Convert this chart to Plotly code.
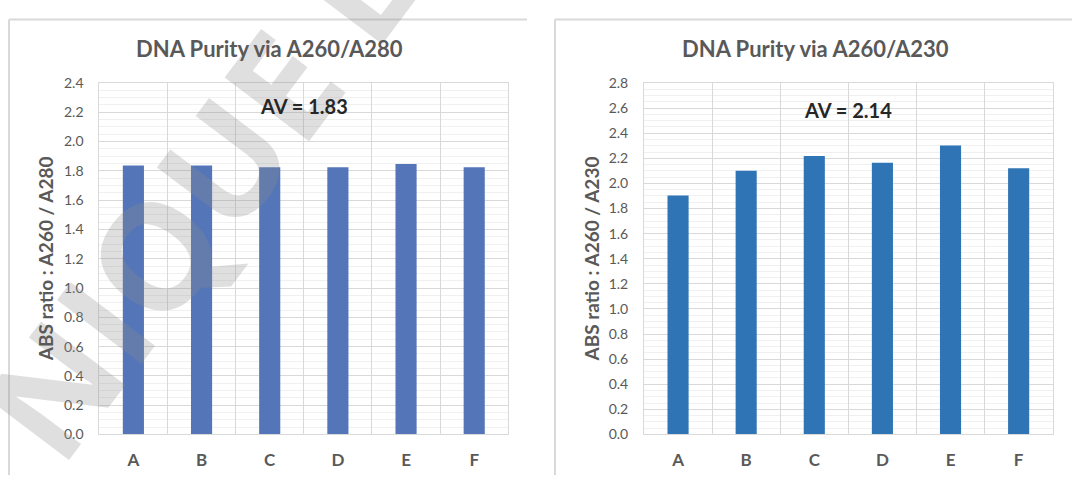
import plotly.graph_objects as go

# ---- data ----
categories = ["A", "B", "C", "D", "E", "F"]
ratio_260_280 = [1.836, 1.836, 1.825, 1.825, 1.847, 1.825]
ratio_260_230 = [1.904, 2.101, 2.219, 2.165, 2.303, 2.121]
title_left = "DNA Purity via A260/A280"
title_right = "DNA Purity via A260/A230"
ytitle_left = "ABS ratio : A260 / A280"
ytitle_right = "ABS ratio : A260 / A230"
avg_left_label = "AV = 1.83"
avg_right_label = "AV = 2.14"
watermark_text = "NIQUE E"

W, H = 1072, 483
FONT = "Lato"
GRAY = "#595959"
GRID = "#d9d9d9"
MINOR = "#f0f0f0"

def px(x):
    return x / W

def py(y):
    return 1 - y / H

fig = go.Figure()
fig.add_trace(go.Bar(x=categories, y=ratio_260_280, marker=dict(color="#5476b9", line=dict(width=0)),
                     xaxis="x", yaxis="y", showlegend=False))
fig.add_trace(go.Bar(x=categories, y=ratio_260_230, marker=dict(color="#2f75b6", line=dict(width=0)),
                     xaxis="x2", yaxis="y2", showlegend=False))

xcommon = dict(type="category", tickson="boundaries", showgrid=True, gridcolor=GRID, gridwidth=1,
               showline=True, linecolor=GRID, linewidth=1, mirror=True, ticks="", zeroline=False,
               tickfont=dict(family=FONT, size=17, color=GRAY, weight="bold"), ticklabelstandoff=10,
               fixedrange=True)
ycommon = dict(showgrid=True, gridcolor=GRID, gridwidth=1, dtick=0.2, tick0=0, tickformat=".1f",
               showline=True, linecolor=GRID, linewidth=1, mirror=True, ticks="", zeroline=False,
               minor=dict(dtick=0.05, showgrid=True, gridcolor=MINOR, gridwidth=1),
               tickfont=dict(family=FONT, size=14, color=GRAY), ticklabelstandoff=12,
               fixedrange=True)

ydom = [py(441), py(76.7)]
fig.update_layout(
    width=W, height=H, autosize=False,
    margin=dict(l=0, r=0, t=0, b=0),
    paper_bgcolor="white", plot_bgcolor="white",
    bargap=0.69,
    xaxis=dict(domain=[px(99.3), px(508.3)], anchor="y", **xcommon),
    yaxis=dict(domain=ydom, anchor="x", range=[0, 2.4], **ycommon),
    xaxis2=dict(domain=[px(644), px(1052.7)], anchor="y2", **xcommon),
    yaxis2=dict(domain=ydom, anchor="x2", range=[0, 2.8], **ycommon),
    font=dict(family=FONT),
)

# panel borders
border = dict(color=GRID, width=2)
for x0, x1 in [(9, 527), (555, 1072)]:
    fig.add_shape(type="line", xref="paper", yref="paper", x0=px(x0), x1=px(x1), y0=py(11), y1=py(11), line=border)
    fig.add_shape(type="line", xref="paper", yref="paper", x0=px(x0), x1=px(x0), y0=py(11), y1=py(483), line=border)

ann = []
# watermark
ann.append(dict(text=watermark_text, xref="paper", yref="paper", x=px(196), y=py(193),
                showarrow=False, textangle=-53, xanchor="center", yanchor="middle",
                font=dict(family="Open Sans", size=148, color="rgba(140,140,140,0.28)", weight="bold")))
# titles
for t, xc in [(title_left, 269), (title_right, 815)]:
    ann.append(dict(text=t, xref="paper", yref="paper", x=px(xc), y=py(41), showarrow=False,
                    xanchor="center", yanchor="middle",
                    font=dict(family=FONT, size=22, color=GRAY, weight="bold")))
# y-axis titles
for t, xc in [(ytitle_left, 46.3), (ytitle_right, 591.5)]:
    ann.append(dict(text=t, xref="paper", yref="paper", x=px(xc), y=py(259), showarrow=False,
                    textangle=-90, xanchor="center", yanchor="middle",
                    font=dict(family=FONT, size=19, color=GRAY, weight="bold")))
# average labels
for t, xc, yc in [(avg_left_label, 303.8, 100.8), (avg_right_label, 848.3, 105)]:
    ann.append(dict(text=t, xref="paper", yref="paper", x=px(xc), y=py(yc), showarrow=False,
                    xanchor="center", yanchor="middle",
                    font=dict(family=FONT, size=20, color="#262626", weight="bold")))
fig.update_layout(annotations=ann)

fig.write_html("out.html", config={"displayModeBar": False})
